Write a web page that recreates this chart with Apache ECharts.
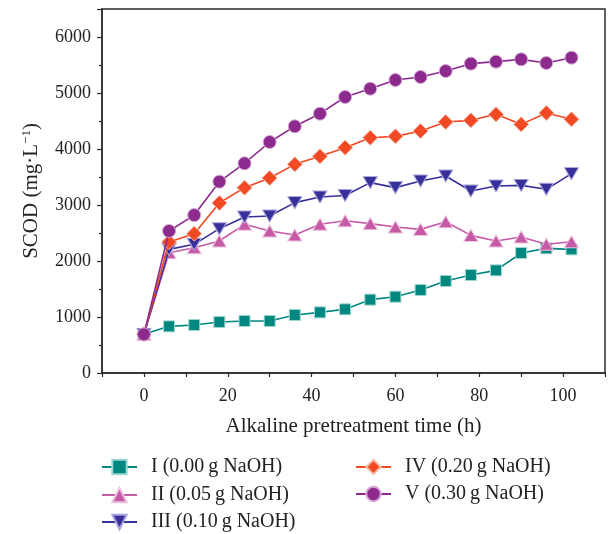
<!DOCTYPE html>
<html>
<head>
<meta charset="utf-8">
<script src="https://cdn.jsdelivr.net/npm/echarts@6/dist/echarts.min.js"></script>
<style>
html,body{margin:0;padding:0;background:#fff;}
#c{width:608px;height:534px;}
</style>
</head>
<body>
<div id="c"></div>
<script>
var times = [0, 6, 12, 18, 24, 30, 36, 42, 48, 54, 60, 66, 72, 78, 84, 90, 96, 102];
var seriesNames = ['I (0.00\u2009g NaOH)', 'II (0.05\u2009g NaOH)', 'III (0.10\u2009g NaOH)', 'IV (0.20\u2009g NaOH)', 'V (0.30\u2009g NaOH)'];
var sI   = [690, 833, 857, 911, 929, 929, 1036, 1083, 1137, 1310, 1363, 1482, 1643, 1750, 1833, 2143, 2226, 2208];
var sII  = [690, 2148, 2238, 2357, 2655, 2536, 2464, 2655, 2720, 2667, 2607, 2565, 2702, 2458, 2357, 2429, 2298, 2345];
var sIII = [690, 2208, 2298, 2577, 2786, 2804, 3042, 3143, 3170, 3399, 3310, 3429, 3518, 3250, 3339, 3351, 3280, 3560];
var sIV  = [690, 2339, 2488, 3036, 3310, 3482, 3726, 3869, 4024, 4202, 4226, 4321, 4482, 4512, 4619, 4440, 4643, 4530];
var sV   = [690, 2536, 2820, 3417, 3744, 4125, 4405, 4631, 4929, 5077, 5232, 5286, 5393, 5524, 5560, 5601, 5536, 5631];
var yTicks = [0, 1000, 2000, 3000, 4000, 5000, 6000];
var xTicks = [0, 20, 40, 60, 80, 100];

var allValues = [sI, sII, sIII, sIV, sV];
var colors = ['#00877F', '#C65AA6', '#37309A', '#F04923', '#8C2A8E'];
var borders = ['#9fd6d2', '#ecc0df', '#a9a4dc', '#f9b7a6', '#d4a6d5'];
var symbols = ['rect', 'triangle', 'path://M0,0 L10,0 L5,9 Z', 'diamond', 'circle'];
var sizes = [[11, 11], [14, 12], [14, 12], [15, 15], [13, 13]];

function pairs(vals) { return times.map(function (t, i) { return [t, vals[i]]; }); }

var font = 'Liberation Serif';
var fs = 18;
var fsTitle = 21;
var fsLegend = 20;
var axisColor = '#2b2b2b';

var series = allValues.map(function (vals, k) {
  return {
    name: seriesNames[k],
    type: 'line',
    data: pairs(vals),
    symbol: symbols[k],
    symbolSize: sizes[k],
    lineStyle: { color: colors[k], width: 1.6 },
    itemStyle: { color: colors[k], borderColor: borders[k], borderWidth: 1 },
    emphasis: { disabled: true },
    animation: false,
    z: 2 + k
  };
});

var legendPos = [[101, 455], [101, 483], [101, 510], [355, 455], [355, 482]];
var legends = seriesNames.map(function (n, k) {
  return {
    data: [n], orient: 'horizontal', left: legendPos[k][0], top: legendPos[k][1],
    itemWidth: 35, itemHeight: 18, padding: 0,
    textStyle: { fontFamily: font, fontSize: fsLegend, color: '#222', lineHeight: 24, padding: [0, 0, 0, 9] }
  };
});

var chart = echarts.init(document.getElementById('c'), null, { renderer: 'canvas' });
chart.setOption({
  backgroundColor: '#fff',
  animation: false,
  grid: { left: 102, top: 9, width: 508, height: 364, show: true, borderColor: axisColor, borderWidth: 1.5, backgroundColor: 'transparent' },
  xAxis: {
    type: 'value', min: -10, max: 110, interval: 10,
    name: 'Alkaline pretreatment time (h)', nameLocation: 'middle', nameGap: 43,
    nameTextStyle: { fontFamily: font, fontSize: fsTitle, color: '#222' },
    axisLine: { show: true, onZero: false, lineStyle: { color: axisColor, width: 1.5 } },
    axisTick: { show: true, inside: false, length: 4, lineStyle: { color: axisColor, width: 1.2 } },
    axisLabel: {
      fontFamily: font, fontSize: fs, color: '#222', margin: 14,
      formatter: function (v) { return xTicks.indexOf(v) >= 0 ? String(v) : ''; }
    },
    splitLine: { show: false }
  },
  yAxis: {
    type: 'value', min: 0, max: 6500, interval: 1000,
    name: '{a|SCOD (mg·L}{s|−1}{a|)}', nameLocation: 'middle', nameGap: 60, nameRotate: 90,
    nameTextStyle: {
      fontFamily: font, fontSize: fsTitle, color: '#222',
      rich: {
        a: { fontFamily: font, fontSize: fsTitle, color: '#222' },
        s: { fontFamily: font, fontSize: 13, color: '#222', verticalAlign: 'top', padding: [0, 0, 9, 0] }
      }
    },
    axisLine: { show: true, onZero: false, lineStyle: { color: axisColor, width: 1.5 } },
    axisTick: { show: true, inside: false, length: 5, lineStyle: { color: axisColor, width: 1.2 } },
    minorTick: { show: true, splitNumber: 2, length: 3, lineStyle: { color: axisColor, width: 1.2 } },
    axisLabel: {
      fontFamily: font, fontSize: fs, color: '#222', margin: 11,
      formatter: function (v) { return yTicks.indexOf(v) >= 0 ? String(v) : ''; }
    },
    splitLine: { show: false }
  },
  legend: legends,
  series: series
});
</script>
</body>
</html>
